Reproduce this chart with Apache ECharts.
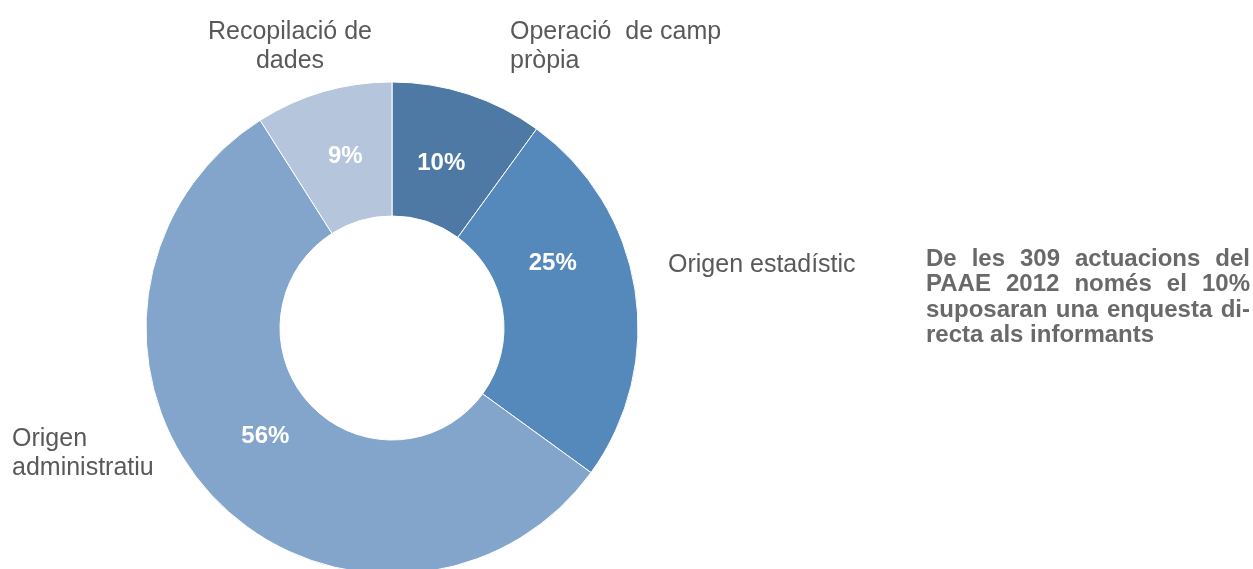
<!DOCTYPE html>
<html>
<head>
<meta charset="utf-8">
<script src="https://cdn.jsdelivr.net/npm/echarts@6/dist/echarts.min.js"></script>
<style>
  html, body { margin: 0; padding: 0; background: #fff; }
  #block1 { width: 1253px; height: 569px; }
</style>
</head>
<body>
<div id="block1"></div>
<script>
// data
var categories = ['Operació  de camp\npròpia', 'Origen estadístic', 'Origen\nadministratiu', 'Recopilació de\ndades'];
var values = [10, 25, 56, 9];
var colors = ['#4d79a4', '#5589bc', '#83a5cb', '#b4c5dc'];
var noteLines = ['De les 309 actuacions del', 'PAAE 2012 només el 10%', 'suposaran una enquesta di-', 'recta als informants'];

// label placement
var pctOffsets = [[-7, 8], [-19, -36], [6, -16], [4, 3]];
var namePos = [
  { x: 510, y: 47, align: 'left' },
  { x: 668, y: 265, align: 'left' },
  { x: 12, y: 454, align: 'left' },
  { x: 290, y: 47, align: 'center' }
];

var textColor = '#595959';
var nameFont = 'Liberation Sans, Arial, sans-serif';

var myChart1 = echarts.init(document.getElementById('block1'));

var pieData = values.map(function (v, i) {
  return {
    name: categories[i],
    value: v,
    itemStyle: { color: colors[i] },
    label: { offset: pctOffsets[i] }
  };
});

var graphics = categories.map(function (c, i) {
  return {
    type: 'text',
    x: namePos[i].x,
    y: namePos[i].y,
    style: {
      text: c,
      fill: textColor,
      font: '25px ' + nameFont,
      lineHeight: 29,
      align: namePos[i].align,
      verticalAlign: 'middle'
    }
  };
});

// justified note text on the right
var noteFont = 'bold 24px ' + nameFont;
var noteLeft = 926, noteRight = 1250, noteTop = 259, noteStep = 25.5;
var ctx = document.createElement('canvas').getContext('2d');
ctx.font = noteFont;
noteLines.forEach(function (line, li) {
  var y = noteTop + li * noteStep;
  var words = line.split(' ');
  if (li === noteLines.length - 1) {
    graphics.push({ type: 'text', x: noteLeft, y: y,
      style: { text: line, fill: '#696969', font: noteFont, verticalAlign: 'middle' } });
    return;
  }
  var total = 0;
  words.forEach(function (w) { total += ctx.measureText(w).width; });
  var gap = (noteRight - noteLeft - total) / (words.length - 1);
  var x = noteLeft;
  words.forEach(function (w) {
    graphics.push({ type: 'text', x: x, y: y,
      style: { text: w, fill: '#696969', font: noteFont, verticalAlign: 'middle' } });
    x += ctx.measureText(w).width + gap;
  });
});

var option1 = {
  backgroundColor: '#fff',
  animation: false,
  series: [{
    type: 'pie',
    center: [392, 328],
    radius: [112, 246],
    startAngle: 90,
    clockwise: true,
    silent: true,
    itemStyle: { borderColor: '#fff', borderWidth: 1 },
    label: {
      show: true,
      position: 'inside',
      formatter: '{c}%',
      color: '#fff',
      fontWeight: 'bold',
      fontSize: 24,
      fontFamily: nameFont,
      overflow: 'none'
    },
    labelLine: { show: false },
    data: pieData
  }],
  graphic: graphics
};

myChart1.setOption(option1);
</script>
</body>
</html>
